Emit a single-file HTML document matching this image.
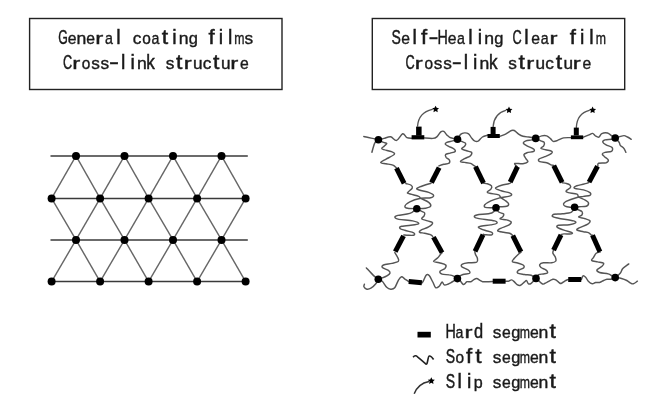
<!DOCTYPE html>
<html><head><meta charset="utf-8"><style>
html,body{margin:0;padding:0;background:#fff;width:660px;height:414px;overflow:hidden}
svg{display:block}
</style></head><body>
<svg width="660" height="414" viewBox="0 0 660 414">
<rect width="660" height="414" fill="#fff"/>
<rect x="29.6" y="18.5" width="252.4" height="71" fill="none" stroke="#222" stroke-width="1.4"/>
<rect x="372.3" y="18.5" width="252.4" height="71" fill="none" stroke="#222" stroke-width="1.4"/>
<g style="will-change:transform" font-family="Liberation Sans, sans-serif" font-size="19.6" fill="#1a1a1a" stroke="#1a1a1a" stroke-width="0.45"><text transform="translate(58.18,44.20) scale(0.628,1.0)">G</text>
<text transform="translate(67.77,44.20) scale(0.803,0.88)">e</text>
<text transform="translate(76.47,44.20) scale(0.899,0.88)">n</text>
<text transform="translate(86.37,44.20) scale(0.803,0.88)">e</text>
<text transform="translate(95.32,44.20) scale(1.224,0.88)">r</text>
<text transform="translate(105.03,44.20) scale(0.726,0.88)">a</text>
<text transform="translate(116.35,44.20) scale(1.000,1.0)">l</text>
<text transform="translate(132.81,44.20) scale(0.878,0.88)">c</text>
<text transform="translate(142.18,44.20) scale(0.787,0.88)">o</text>
<text transform="translate(151.53,44.20) scale(0.726,0.88)">a</text>
<text transform="translate(161.87,44.20) scale(1.177,1.0)">t</text>
<text transform="translate(172.15,44.20) scale(1.000,1.0)">i</text>
<text transform="translate(178.77,44.20) scale(0.899,0.88)">n</text>
<text transform="translate(188.64,44.20) scale(0.839,0.8)">g</text>
<text transform="translate(208.38,44.20) scale(1.134,1.0)">f</text>
<text transform="translate(218.65,44.20) scale(1.000,1.0)">i</text>
<text transform="translate(227.95,44.20) scale(1.000,1.0)">l</text>
<text transform="translate(234.34,44.20) scale(0.627,0.88)">m</text>
<text transform="translate(244.58,44.20) scale(0.878,0.88)">s</text>
<text transform="translate(62.92,68.50) scale(0.648,1.0)">C</text>
<text transform="translate(72.17,68.50) scale(1.224,0.88)">r</text>
<text transform="translate(81.83,68.50) scale(0.787,0.88)">o</text>
<text transform="translate(91.23,68.50) scale(0.878,0.88)">s</text>
<text transform="translate(100.53,68.50) scale(0.878,0.88)">s</text>
<text transform="translate(109.10,68.50) scale(1.531,1.0)">-</text>
<text transform="translate(121.10,68.50) scale(1.000,1.0)">l</text>
<text transform="translate(130.40,68.50) scale(1.000,1.0)">i</text>
<text transform="translate(137.02,68.50) scale(0.899,0.88)">n</text>
<text transform="translate(146.35,68.50) scale(0.878,1.0)">k</text>
<text transform="translate(165.63,68.50) scale(0.878,0.88)">s</text>
<text transform="translate(175.92,68.50) scale(1.177,1.0)">t</text>
<text transform="translate(183.77,68.50) scale(1.224,0.88)">r</text>
<text transform="translate(193.02,68.50) scale(0.878,0.88)">u</text>
<text transform="translate(202.66,68.50) scale(0.878,0.88)">c</text>
<text transform="translate(213.12,68.50) scale(1.177,1.0)">t</text>
<text transform="translate(220.92,68.50) scale(0.878,0.88)">u</text>
<text transform="translate(230.27,68.50) scale(1.224,0.88)">r</text>
<text transform="translate(239.92,68.50) scale(0.803,0.88)">e</text>
<text transform="translate(391.50,44.20) scale(0.716,1.0)">S</text>
<text transform="translate(401.17,44.20) scale(0.803,0.88)">e</text>
<text transform="translate(412.55,44.20) scale(1.000,1.0)">l</text>
<text transform="translate(420.88,44.20) scale(1.134,1.0)">f</text>
<text transform="translate(428.45,44.20) scale(1.531,1.0)">-</text>
<text transform="translate(437.56,44.20) scale(0.729,1.0)">H</text>
<text transform="translate(447.67,44.20) scale(0.803,0.88)">e</text>
<text transform="translate(457.03,44.20) scale(0.726,0.88)">a</text>
<text transform="translate(468.35,44.20) scale(1.000,1.0)">l</text>
<text transform="translate(477.65,44.20) scale(1.000,1.0)">i</text>
<text transform="translate(484.27,44.20) scale(0.899,0.88)">n</text>
<text transform="translate(494.14,44.20) scale(0.839,0.8)">g</text>
<text transform="translate(512.47,44.20) scale(0.648,1.0)">C</text>
<text transform="translate(524.15,44.20) scale(1.000,1.0)">l</text>
<text transform="translate(531.37,44.20) scale(0.803,0.88)">e</text>
<text transform="translate(540.73,44.20) scale(0.726,0.88)">a</text>
<text transform="translate(549.62,44.20) scale(1.224,0.88)">r</text>
<text transform="translate(569.68,44.20) scale(1.134,1.0)">f</text>
<text transform="translate(579.95,44.20) scale(1.000,1.0)">i</text>
<text transform="translate(589.25,44.20) scale(1.000,1.0)">l</text>
<text transform="translate(595.64,44.20) scale(0.627,0.88)">m</text>
<text transform="translate(405.52,68.50) scale(0.648,1.0)">C</text>
<text transform="translate(414.77,68.50) scale(1.224,0.88)">r</text>
<text transform="translate(424.43,68.50) scale(0.787,0.88)">o</text>
<text transform="translate(433.83,68.50) scale(0.878,0.88)">s</text>
<text transform="translate(443.13,68.50) scale(0.878,0.88)">s</text>
<text transform="translate(451.70,68.50) scale(1.531,1.0)">-</text>
<text transform="translate(463.70,68.50) scale(1.000,1.0)">l</text>
<text transform="translate(473.00,68.50) scale(1.000,1.0)">i</text>
<text transform="translate(479.62,68.50) scale(0.899,0.88)">n</text>
<text transform="translate(488.95,68.50) scale(0.878,1.0)">k</text>
<text transform="translate(508.23,68.50) scale(0.878,0.88)">s</text>
<text transform="translate(518.52,68.50) scale(1.177,1.0)">t</text>
<text transform="translate(526.37,68.50) scale(1.224,0.88)">r</text>
<text transform="translate(535.62,68.50) scale(0.878,0.88)">u</text>
<text transform="translate(545.26,68.50) scale(0.878,0.88)">c</text>
<text transform="translate(555.72,68.50) scale(1.177,1.0)">t</text>
<text transform="translate(563.52,68.50) scale(0.878,0.88)">u</text>
<text transform="translate(572.87,68.50) scale(1.224,0.88)">r</text>
<text transform="translate(582.52,68.50) scale(0.803,0.88)">e</text>
<text transform="translate(445.41,337.90) scale(0.729,1.0)">H</text>
<text transform="translate(455.58,337.90) scale(0.726,0.88)">a</text>
<text transform="translate(464.47,337.90) scale(1.224,0.88)">r</text>
<text transform="translate(474.09,337.90) scale(0.839,1.0)">d</text>
<text transform="translate(492.83,337.90) scale(0.878,0.88)">s</text>
<text transform="translate(502.02,337.90) scale(0.803,0.88)">e</text>
<text transform="translate(511.29,337.90) scale(0.839,0.8)">g</text>
<text transform="translate(519.79,337.90) scale(0.627,0.88)">m</text>
<text transform="translate(529.92,337.90) scale(0.803,0.88)">e</text>
<text transform="translate(538.62,337.90) scale(0.899,0.88)">n</text>
<text transform="translate(549.62,337.90) scale(1.177,1.0)">t</text>
<text transform="translate(445.85,362.90) scale(0.716,1.0)">S</text>
<text transform="translate(455.53,362.90) scale(0.787,0.88)">o</text>
<text transform="translate(465.93,362.90) scale(1.134,1.0)">f</text>
<text transform="translate(475.22,362.90) scale(1.177,1.0)">t</text>
<text transform="translate(492.83,362.90) scale(0.878,0.88)">s</text>
<text transform="translate(502.02,362.90) scale(0.803,0.88)">e</text>
<text transform="translate(511.29,362.90) scale(0.839,0.8)">g</text>
<text transform="translate(519.79,362.90) scale(0.627,0.88)">m</text>
<text transform="translate(529.92,362.90) scale(0.803,0.88)">e</text>
<text transform="translate(538.62,362.90) scale(0.899,0.88)">n</text>
<text transform="translate(549.62,362.90) scale(1.177,1.0)">t</text>
<text transform="translate(445.85,387.90) scale(0.716,1.0)">S</text>
<text transform="translate(457.60,387.90) scale(1.000,1.0)">l</text>
<text transform="translate(466.90,387.90) scale(1.000,1.0)">i</text>
<text transform="translate(473.78,387.90) scale(0.821,0.8)">p</text>
<text transform="translate(492.83,387.90) scale(0.878,0.88)">s</text>
<text transform="translate(502.02,387.90) scale(0.803,0.88)">e</text>
<text transform="translate(511.29,387.90) scale(0.839,0.8)">g</text>
<text transform="translate(519.79,387.90) scale(0.627,0.88)">m</text>
<text transform="translate(529.92,387.90) scale(0.803,0.88)">e</text>
<text transform="translate(538.62,387.90) scale(0.899,0.88)">n</text>
<text transform="translate(549.62,387.90) scale(1.177,1.0)">t</text></g>
<g stroke="#3a3a3a" stroke-width="1.5" fill="none"><line x1="50.5" y1="155.9" x2="247.8" y2="155.9"/>
<line x1="50.5" y1="239.9" x2="247.8" y2="239.9"/>
<line x1="51.6" y1="198.4" x2="245.6" y2="198.4"/>
<line x1="51.6" y1="281.6" x2="245.6" y2="281.6"/></g>
<g stroke="#666" stroke-width="1.4" fill="none"><line x1="76.0" y1="155.9" x2="51.6" y2="198.4"/>
<line x1="76.0" y1="155.9" x2="100.1" y2="198.4"/>
<line x1="124.5" y1="155.9" x2="100.1" y2="198.4"/>
<line x1="124.5" y1="155.9" x2="148.6" y2="198.4"/>
<line x1="173.0" y1="155.9" x2="148.6" y2="198.4"/>
<line x1="173.0" y1="155.9" x2="197.1" y2="198.4"/>
<line x1="221.5" y1="155.9" x2="197.1" y2="198.4"/>
<line x1="221.5" y1="155.9" x2="245.6" y2="198.4"/>
<line x1="76.0" y1="239.9" x2="51.6" y2="198.4"/>
<line x1="76.0" y1="239.9" x2="100.1" y2="198.4"/>
<line x1="124.5" y1="239.9" x2="100.1" y2="198.4"/>
<line x1="124.5" y1="239.9" x2="148.6" y2="198.4"/>
<line x1="173.0" y1="239.9" x2="148.6" y2="198.4"/>
<line x1="173.0" y1="239.9" x2="197.1" y2="198.4"/>
<line x1="221.5" y1="239.9" x2="197.1" y2="198.4"/>
<line x1="221.5" y1="239.9" x2="245.6" y2="198.4"/>
<line x1="76.0" y1="239.9" x2="51.6" y2="281.6"/>
<line x1="76.0" y1="239.9" x2="100.1" y2="281.6"/>
<line x1="124.5" y1="239.9" x2="100.1" y2="281.6"/>
<line x1="124.5" y1="239.9" x2="148.6" y2="281.6"/>
<line x1="173.0" y1="239.9" x2="148.6" y2="281.6"/>
<line x1="173.0" y1="239.9" x2="197.1" y2="281.6"/>
<line x1="221.5" y1="239.9" x2="197.1" y2="281.6"/>
<line x1="221.5" y1="239.9" x2="245.6" y2="281.6"/></g>
<g fill="#000"><circle cx="76.0" cy="155.9" r="4.0"/>
<circle cx="124.5" cy="155.9" r="4.0"/>
<circle cx="173.0" cy="155.9" r="4.0"/>
<circle cx="221.5" cy="155.9" r="4.0"/>
<circle cx="76.0" cy="239.9" r="4.0"/>
<circle cx="124.5" cy="239.9" r="4.0"/>
<circle cx="173.0" cy="239.9" r="4.0"/>
<circle cx="221.5" cy="239.9" r="4.0"/>
<circle cx="51.6" cy="198.4" r="4.0"/>
<circle cx="100.1" cy="198.4" r="4.0"/>
<circle cx="148.6" cy="198.4" r="4.0"/>
<circle cx="197.1" cy="198.4" r="4.0"/>
<circle cx="245.6" cy="198.4" r="4.0"/>
<circle cx="51.6" cy="281.6" r="4.0"/>
<circle cx="100.1" cy="281.6" r="4.0"/>
<circle cx="148.6" cy="281.6" r="4.0"/>
<circle cx="197.1" cy="281.6" r="4.0"/>
<circle cx="245.6" cy="281.6" r="4.0"/></g>
<rect x="417.5" y="331.8" width="13.3" height="5.7" fill="#000"/>
<path d="M413.1,357.3 C414.5,355.5 416,355.3 417.5,356.8 L426,364 C427.7,365.2 427.8,356.4 429.2,356 C430.7,355.7 432.3,357.5 433.6,359.5" fill="none" stroke="#222" stroke-width="1.6"/>
<path d="M414.2,393.8 Q418,383.5 429,381.4" fill="none" stroke="#333" stroke-width="1.5"/>
<g fill="#000"><polygon points="431.30,377.30 432.39,379.50 434.82,379.86 433.06,381.57 433.47,383.99 431.30,382.85 429.13,383.99 429.54,381.57 427.78,379.86 430.21,379.50"/></g>
<g fill="none" stroke="#555" stroke-width="1.45" stroke-linecap="round" stroke-linejoin="round">
<path d="M363.8,136.5 C366.2,137.1 376.0,139.2 378.4,139.8"/>
<path d="M378.4,139.8 C379.3,139.6 382.0,138.9 384.0,138.4 C386.0,137.9 388.5,136.5 390.6,136.8 C392.7,137.1 394.6,140.9 396.6,140.4 C398.6,139.9 401.0,134.3 402.7,133.8 C404.4,133.3 405.3,136.9 406.9,137.6 C408.4,138.3 411.1,138.1 412.0,138.2"/>
<path d="M424.0,137.9 C425.5,138.0 430.8,138.6 432.9,138.4 C435.0,138.2 435.5,138.0 436.8,136.9 C438.1,135.8 439.6,132.8 440.8,131.9 C442.0,131.0 442.8,130.9 443.8,131.4 C444.8,131.9 445.8,133.9 446.8,134.9 C447.8,135.9 448.6,136.8 449.7,137.4 C450.8,138.0 452.4,138.1 453.7,138.4 C455.0,138.7 456.9,139.2 457.5,139.3"/>
<path d="M457.5,139.3 C458.0,138.5 459.4,135.5 460.6,134.4 C461.8,133.3 463.3,133.0 464.6,132.9 C465.9,132.8 467.5,133.1 468.6,133.9 C469.8,134.7 470.5,136.7 471.5,137.9 C472.5,139.1 473.4,140.4 474.5,140.9 C475.6,141.4 476.7,141.8 478.0,141.2 C479.3,140.5 480.8,138.0 482.4,137.0 C484.0,136.0 486.6,135.5 487.5,135.2"/>
<path d="M499.8,136.3 C500.8,135.9 503.7,135.1 505.6,134.1 C507.5,133.1 509.9,131.1 511.4,130.5 C512.8,129.9 513.1,129.9 514.3,130.5 C515.5,131.1 517.1,133.1 518.6,134.1 C520.1,135.1 521.3,135.8 523.0,136.3 C524.7,136.8 527.1,136.8 528.8,137.0 C530.5,137.2 532.0,137.6 533.1,137.8 C534.2,138.0 535.3,138.3 535.7,138.4"/>
<path d="M535.7,138.4 C536.7,138.0 540.0,136.3 541.8,135.9 C543.6,135.5 545.2,135.4 546.7,135.9 C548.2,136.4 549.6,138.0 550.7,138.9 C551.8,139.8 552.1,141.2 553.2,141.4 C554.4,141.7 555.9,141.0 557.6,140.4 C559.3,139.8 561.4,138.4 563.6,137.9 C565.8,137.4 569.7,137.7 570.9,137.6"/>
<path d="M583.2,137.2 C584.2,136.8 587.4,135.5 589.0,134.9 C590.6,134.3 591.5,133.2 592.6,133.4 C593.7,133.6 594.5,135.4 595.5,136.0 C596.5,136.6 597.9,137.6 598.9,137.2 C599.9,136.8 600.4,134.3 601.8,133.6 C603.2,132.9 605.8,132.6 607.5,133.0 C609.2,133.4 610.6,135.1 611.9,135.9 C613.2,136.7 614.7,137.7 615.2,138.0"/>
<path d="M615.2,138.0 C615.9,137.8 617.6,137.3 619.1,136.9 C620.6,136.5 622.6,135.6 624.0,135.6 C625.4,135.6 626.3,136.4 627.5,137.0 C628.7,137.6 630.6,138.9 631.2,139.3"/>
<path d="M615.2,138.0 C615.9,138.7 618.2,141.0 619.1,142.2 C620.0,143.4 619.5,144.4 620.3,145.4 C621.1,146.4 622.9,147.0 623.8,148.2 C624.7,149.3 625.5,151.6 625.9,152.3"/>
<path d="M378.4,139.8 C377.9,140.2 376.0,141.3 375.3,142.2 C374.6,143.0 374.6,143.2 374.0,144.9 C373.4,146.6 372.2,151.1 371.9,152.3"/>
<path d="M378.4,139.8 C379.1,140.2 381.4,141.6 382.8,142.2 C384.2,142.8 386.6,142.8 386.8,143.5 C387.0,144.2 384.9,145.3 384.1,146.2 C383.3,147.1 380.9,148.1 382.1,149.0 C383.4,149.9 389.6,150.8 391.6,151.7 C393.6,152.6 395.2,153.2 394.3,154.4 C393.4,155.6 388.4,157.8 386.1,159.1 C383.8,160.4 380.7,161.7 380.7,162.5 C380.7,163.3 384.1,163.4 386.1,163.8 C388.1,164.2 391.2,164.5 392.9,165.2 C394.6,165.9 395.7,167.4 396.3,167.9"/>
<path d="M405.8,183.5 C406.6,183.8 409.7,184.3 410.8,185.0 C411.9,185.7 412.7,186.8 412.3,187.9 C411.9,189.1 409.0,191.0 408.3,191.9 C407.6,192.8 406.6,192.7 408.3,193.4 C410.0,194.2 416.6,195.6 418.7,196.4 C420.8,197.2 419.0,197.3 420.7,198.3 C422.4,199.3 427.0,201.0 428.7,202.3 C430.4,203.6 431.1,205.3 430.6,206.3 C430.1,207.3 428.0,207.8 425.7,208.2 C423.4,208.6 418.3,208.6 416.8,208.7"/>
<path d="M457.5,139.3 C456.7,139.6 454.5,140.4 452.7,140.9 C450.9,141.4 448.0,141.7 446.8,142.3 C445.6,142.9 445.0,143.6 445.3,144.3 C445.6,145.0 447.3,145.6 448.7,146.3 C450.1,147.1 452.6,147.9 453.7,148.8 C454.8,149.7 455.8,150.8 455.2,151.5 C454.6,152.2 451.8,152.6 450.2,153.1 C448.6,153.6 446.3,153.8 445.6,154.5 C444.9,155.2 445.5,156.3 446.1,157.3 C446.8,158.3 449.1,159.3 449.5,160.3 C449.9,161.3 449.8,162.7 448.8,163.3 C447.9,164.0 445.5,163.8 443.8,164.2 C442.1,164.6 439.7,165.6 438.9,165.9"/>
<path d="M431.0,183.2 C429.1,183.8 422.0,185.9 419.7,186.9 C417.4,187.9 415.8,188.5 417.3,189.4 C418.8,190.3 426.0,191.4 428.7,192.4 C431.4,193.4 433.3,194.5 433.6,195.4 C433.9,196.3 432.8,197.3 430.6,197.8 C428.5,198.3 424.2,197.6 420.7,198.3 C417.2,199.0 412.4,200.5 409.8,201.8 C407.2,203.1 405.2,205.2 404.9,206.3 C404.6,207.4 405.8,207.8 407.8,208.2 C409.8,208.6 415.3,208.6 416.8,208.7"/>
<path d="M416.8,208.7 C415.6,209.5 413.0,212.3 409.8,213.4 C406.6,214.5 400.4,214.7 397.9,215.4 C395.4,216.1 394.7,216.7 394.9,217.4 C395.1,218.1 395.9,218.8 398.9,219.4 C401.9,220.0 409.4,220.2 412.7,220.9 C416.0,221.6 418.4,222.7 418.7,223.3 C419.0,224.0 417.5,224.3 414.7,224.8 C411.9,225.3 404.3,225.7 401.8,226.3 C399.3,226.9 399.4,227.6 399.9,228.3 C400.4,229.0 402.5,229.6 404.8,230.3 C407.1,231.1 412.2,232.0 413.7,232.8 C415.2,233.6 414.8,234.8 413.7,235.2 C412.6,235.6 408.4,235.2 406.8,235.2 C405.2,235.2 404.3,235.0 403.8,235.0"/>
<path d="M416.8,208.7 C417.4,209.1 419.4,210.2 420.7,210.9 C422.0,211.6 424.0,212.1 424.6,212.9 C425.2,213.7 424.6,214.9 424.1,215.9 C423.6,216.9 421.1,218.1 421.7,218.9 C422.3,219.7 425.8,220.2 427.6,220.9 C429.4,221.6 432.4,221.8 432.6,222.8 C432.8,223.8 430.6,225.6 428.6,226.8 C426.6,228.1 422.2,229.4 420.7,230.3 C419.2,231.2 419.0,231.8 419.7,232.3 C420.4,232.8 422.8,232.8 424.6,233.2 C426.4,233.6 429.2,234.1 430.6,234.7 C432.0,235.2 432.4,236.2 432.7,236.5"/>
<path d="M394.8,252.5 C395.3,253.3 397.1,256.1 397.7,257.5 C398.3,258.9 399.4,260.2 398.4,261.2 C397.4,262.2 394.4,262.8 391.9,263.4 C389.4,264.0 385.1,264.3 383.5,265.0 C381.9,265.7 381.6,266.7 382.4,267.6 C383.2,268.5 387.1,269.4 388.4,270.3 C389.7,271.2 390.2,272.1 390.0,273.0 C389.8,273.9 388.7,274.7 387.3,275.6 C385.9,276.5 383.2,277.6 381.7,278.2 C380.2,278.8 378.9,279.1 378.3,279.3"/>
<path d="M442.1,252.8 C441.9,253.0 441.3,253.4 440.6,254.2 C439.9,255.0 439.0,256.6 437.8,257.8 C436.6,259.0 433.3,260.6 433.5,261.4 C433.7,262.2 437.2,262.2 439.2,262.8 C441.2,263.4 444.7,263.9 445.6,264.9 C446.6,265.8 445.8,267.4 444.9,268.5 C443.9,269.6 440.4,270.4 439.9,271.4 C439.4,272.3 440.6,273.6 442.1,274.2 C443.7,274.8 447.2,274.5 449.2,274.9 C451.2,275.2 452.8,275.7 454.2,276.3 C455.6,276.9 456.9,278.2 457.4,278.6"/>
<path d="M457.5,139.3 C458.2,139.7 460.2,140.7 461.6,141.4 C463.0,142.1 465.1,142.5 465.6,143.3 C466.1,144.1 465.3,145.4 464.6,146.3 C463.9,147.2 461.3,148.1 461.6,148.8 C461.9,149.6 465.0,150.2 466.6,150.8 C468.2,151.4 470.9,151.5 471.5,152.3 C472.1,153.1 471.6,154.6 470.5,155.7 C469.4,156.8 466.3,157.7 464.6,158.7 C462.9,159.7 460.4,160.9 460.4,161.5 C460.4,162.1 462.9,162.1 464.6,162.4 C466.3,162.7 469.1,162.9 470.6,163.4 C472.1,163.9 472.8,164.9 473.6,165.4 C474.4,165.9 475.1,166.2 475.4,166.4"/>
<path d="M483.8,183.3 C484.4,183.4 486.0,183.4 487.3,183.8 C488.6,184.2 490.9,184.9 491.5,185.8 C492.1,186.7 491.6,188.2 490.9,189.2 C490.2,190.2 487.5,191.3 487.3,192.0 C487.1,192.7 487.9,192.8 489.8,193.3 C491.7,193.8 496.9,194.2 498.7,194.9 C500.5,195.6 499.5,196.4 500.7,197.4 C501.9,198.4 504.4,199.8 505.7,200.9 C507.0,202.0 508.4,202.9 508.6,203.8 C508.8,204.7 508.2,205.8 506.7,206.3 C505.2,206.8 501.5,206.6 499.7,206.8 C497.9,207.1 496.6,207.6 496.0,207.8"/>
<path d="M535.7,138.4 C535.1,138.7 533.4,139.5 531.8,139.9 C530.2,140.3 527.3,140.3 525.9,140.9 C524.5,141.5 523.2,142.5 523.4,143.3 C523.6,144.1 525.2,144.9 526.9,145.8 C528.5,146.7 532.1,147.9 533.3,148.8 C534.4,149.7 534.9,150.6 533.8,151.3 C532.7,152.0 528.5,152.2 526.9,152.8 C525.2,153.4 524.1,153.7 523.9,154.7 C523.7,155.7 525.2,157.5 525.9,158.7 C526.6,159.9 528.4,160.9 527.9,161.7 C527.4,162.5 525.1,163.4 522.9,163.7 C520.7,164.0 515.7,163.0 514.8,163.5 C513.9,164.0 517.0,166.3 517.4,166.9"/>
<path d="M510.6,182.8 C510.3,183.0 510.1,183.4 508.6,183.8 C507.1,184.2 503.8,184.6 501.6,185.3 C499.4,186.0 495.6,187.3 495.5,188.2 C495.4,189.1 498.8,190.0 501.2,190.8 C503.6,191.6 507.9,192.2 509.6,192.9 C511.3,193.6 511.8,194.3 511.6,194.9 C511.4,195.5 510.6,195.9 508.6,196.4 C506.6,196.9 502.7,197.2 499.7,197.9 C496.7,198.7 493.3,199.8 490.8,200.9 C488.3,202.1 485.7,203.7 484.8,204.8 C483.9,205.9 484.1,206.8 485.3,207.3 C486.5,207.8 490.0,207.7 491.8,207.8 C493.6,207.9 495.3,207.8 496.0,207.8"/>
<path d="M496.0,207.8 C495.3,208.7 495.0,211.8 491.8,213.0 C488.6,214.2 479.8,214.3 476.9,215.0 C474.0,215.7 474.2,216.3 474.4,216.9 C474.6,217.5 474.5,217.7 477.9,218.4 C481.3,219.1 491.6,220.1 494.7,220.9 C497.8,221.7 497.3,222.7 496.7,223.4 C496.1,224.1 493.6,224.4 490.8,224.9 C488.0,225.4 481.9,225.9 479.9,226.4 C477.9,226.9 478.1,227.2 478.9,227.8 C479.7,228.5 482.6,229.6 484.8,230.3 C487.0,231.1 490.6,231.6 491.8,232.3 C493.0,233.1 492.8,234.4 491.8,234.8 C490.8,235.2 487.2,234.9 485.8,234.8 C484.4,234.7 483.7,234.4 483.3,234.3"/>
<path d="M496.0,207.8 C496.4,208.5 497.4,211.0 498.7,212.0 C500.0,213.0 503.0,213.2 503.7,214.0 C504.4,214.8 503.3,216.1 502.7,216.9 C502.1,217.7 499.5,218.4 500.2,218.9 C500.9,219.4 504.8,219.4 506.6,219.9 C508.4,220.4 510.7,221.1 511.1,221.9 C511.5,222.7 510.8,223.8 509.1,224.9 C507.4,226.0 502.6,227.3 500.7,228.3 C498.8,229.3 497.2,230.1 497.7,230.8 C498.2,231.5 501.7,231.9 503.7,232.3 C505.7,232.7 508.1,232.8 509.6,233.3 C511.1,233.8 512.1,235.0 512.6,235.3"/>
<path d="M474.8,251.7 C474.9,252.1 475.0,253.2 475.4,254.3 C475.8,255.4 477.2,257.0 477.4,258.3 C477.6,259.6 478.2,261.4 476.7,262.2 C475.2,262.9 470.7,262.5 468.3,262.8 C465.9,263.1 463.5,263.5 462.4,264.1 C461.3,264.8 460.7,265.7 461.7,266.7 C462.7,267.7 467.0,268.9 468.3,270.0 C469.6,271.1 470.5,272.4 469.6,273.2 C468.7,273.9 464.8,273.9 463.0,274.5 C461.2,275.1 460.0,275.8 459.1,276.5 C458.2,277.2 457.7,278.2 457.4,278.6"/>
<path d="M521.1,252.2 C520.6,252.5 519.5,253.2 518.4,254.2 C517.3,255.2 515.4,257.1 514.4,258.3 C513.4,259.5 511.7,260.8 512.3,261.6 C512.8,262.4 515.9,262.4 517.7,263.0 C519.5,263.6 522.1,264.2 523.1,265.0 C524.1,265.8 524.6,266.8 523.8,267.7 C523.0,268.6 519.4,269.5 518.4,270.4 C517.4,271.3 516.7,272.4 517.7,273.1 C518.7,273.8 522.2,274.1 524.5,274.5 C526.8,274.9 529.3,274.6 531.2,275.2 C533.1,275.8 535.2,277.9 536.0,278.4"/>
<path d="M535.7,138.4 C536.6,138.8 539.4,140.2 540.8,140.9 C542.2,141.6 543.7,141.5 544.2,142.3 C544.7,143.1 544.3,144.8 543.7,145.8 C543.1,146.8 540.5,147.6 540.8,148.3 C541.1,149.0 543.9,149.3 545.7,149.8 C547.5,150.3 550.8,150.7 551.7,151.3 C552.6,152.0 552.4,152.8 551.2,153.7 C550.0,154.6 546.8,155.8 544.7,156.7 C542.6,157.6 539.6,158.4 538.8,159.2 C538.0,160.0 538.5,161.1 539.8,161.7 C541.1,162.3 544.9,162.2 546.7,162.7 C548.6,163.2 549.8,164.4 550.9,164.9 C552.0,165.4 553.1,165.3 553.6,165.4"/>
<path d="M562.3,182.8 C562.9,182.9 564.8,183.0 566.1,183.4 C567.4,183.8 569.2,184.3 569.9,185.0 C570.6,185.7 571.0,186.7 570.4,187.7 C569.8,188.7 566.5,190.2 566.1,191.0 C565.8,191.8 566.5,192.1 568.3,192.6 C570.1,193.1 575.3,193.5 577.0,194.2 C578.7,194.9 577.3,196.0 578.7,197.0 C580.1,198.0 583.6,199.2 585.2,200.2 C586.8,201.2 588.3,201.9 588.5,202.9 C588.7,203.9 587.9,205.6 586.3,206.2 C584.7,206.8 580.7,206.5 578.7,206.7 C576.8,206.9 575.3,207.2 574.6,207.3"/>
<path d="M615.2,138.0 C614.6,138.2 613.2,139.0 611.5,139.3 C609.8,139.6 606.5,139.4 605.0,139.9 C603.5,140.4 602.6,141.3 602.8,142.1 C603.0,142.9 604.5,143.9 606.1,144.8 C607.7,145.7 611.2,146.4 612.1,147.5 C613.0,148.6 612.7,150.5 611.5,151.3 C610.3,152.1 606.5,152.0 605.0,152.4 C603.5,152.8 602.4,153.3 602.3,154.0 C602.2,154.7 603.5,155.7 604.5,156.7 C605.5,157.7 608.0,159.0 608.3,160.0 C608.6,161.0 607.7,162.1 606.1,162.7 C604.5,163.2 599.9,162.8 598.5,163.3 C597.1,163.9 598.0,165.6 597.9,166.0"/>
<path d="M588.9,182.3 C588.5,182.5 588.9,182.8 586.7,183.4 C584.5,184.0 577.9,185.3 575.9,186.1 C573.9,186.9 573.5,187.7 574.8,188.3 C576.1,188.9 581.0,189.2 583.5,189.9 C586.0,190.6 588.9,191.7 590.0,192.6 C591.1,193.5 591.1,194.7 590.0,195.3 C588.9,195.9 585.7,196.0 583.5,196.4 C581.3,196.8 579.9,196.7 577.0,197.5 C574.1,198.3 568.4,200.2 566.1,201.3 C563.9,202.4 563.7,203.2 563.5,204.0 C563.3,204.8 564.0,205.6 565.1,206.2 C566.2,206.8 568.4,207.1 570.0,207.3 C571.6,207.5 573.8,207.3 574.6,207.3"/>
<path d="M574.6,207.3 C574.1,208.1 573.5,211.1 571.5,212.2 C569.5,213.3 565.3,213.5 562.4,213.8 C559.5,214.2 555.8,213.9 554.1,214.3 C552.5,214.8 551.8,215.8 552.5,216.5 C553.2,217.2 555.0,217.5 558.5,218.2 C562.0,218.9 570.9,220.1 573.7,220.9 C576.5,221.7 576.0,222.4 575.3,223.0 C574.6,223.6 572.1,224.3 569.3,224.7 C566.5,225.1 560.5,224.8 558.5,225.2 C556.5,225.6 556.5,226.6 557.4,227.4 C558.3,228.2 561.5,229.3 563.9,230.1 C566.2,230.9 570.2,231.7 571.5,232.3 C572.8,232.9 572.8,233.6 571.5,233.9 C570.2,234.2 565.6,233.8 563.9,233.9 C562.2,234.0 561.7,234.4 561.2,234.5"/>
<path d="M574.6,207.3 C575.1,207.7 576.4,208.8 577.6,209.5 C578.8,210.2 581.3,210.7 582.0,211.6 C582.7,212.5 582.5,214.0 582.0,214.9 C581.5,215.8 578.2,216.5 578.7,217.1 C579.2,217.7 583.3,218.1 585.2,218.7 C587.1,219.3 589.6,220.0 590.0,220.9 C590.4,221.8 589.6,222.9 587.8,224.1 C586.0,225.3 580.9,226.9 579.1,227.9 C577.3,228.9 576.3,229.5 577.0,230.1 C577.7,230.7 581.5,231.2 583.5,231.7 C585.5,232.1 587.6,232.2 588.9,232.8 C590.2,233.4 590.5,234.6 591.1,235.0 C591.7,235.4 592.0,235.0 592.2,235.0"/>
<path d="M553.4,250.3 C553.3,250.8 552.6,252.2 552.9,253.3 C553.2,254.4 554.7,255.5 555.2,256.8 C555.7,258.1 556.4,260.0 555.8,261.0 C555.2,262.0 553.8,262.5 551.7,262.8 C549.6,263.1 545.4,262.5 543.4,262.8 C541.4,263.1 540.2,263.7 539.8,264.5 C539.4,265.3 540.0,266.6 541.0,267.5 C542.0,268.4 544.7,269.0 545.8,269.9 C546.9,270.8 547.9,272.1 547.5,272.8 C547.1,273.5 544.9,273.7 543.4,274.0 C541.9,274.3 539.9,273.9 538.7,274.6 C537.5,275.3 536.5,277.8 536.0,278.4"/>
<path d="M600.2,252.0 C599.5,252.2 597.3,252.4 596.2,253.3 C595.1,254.2 594.4,256.1 593.6,257.3 C592.8,258.5 590.9,259.8 591.6,260.6 C592.3,261.4 595.6,261.5 597.6,261.9 C599.6,262.3 602.9,262.4 603.6,263.2 C604.3,264.0 602.7,265.5 601.6,266.6 C600.5,267.7 597.2,268.9 596.9,269.9 C596.6,270.9 597.7,271.8 599.6,272.5 C601.5,273.2 606.1,273.3 608.2,273.9 C610.3,274.5 611.0,275.3 612.2,275.9 C613.4,276.5 614.7,277.3 615.2,277.6"/>
<path d="M366.4,267.9 C367.6,269.2 371.9,274.0 373.9,275.9 C375.9,277.8 377.6,278.7 378.3,279.3"/>
<path d="M378.3,279.3 C377.9,280.1 377.0,282.3 375.8,283.8 C374.6,285.3 372.4,287.3 370.9,288.2 C369.4,289.1 368.1,289.4 366.9,289.2 C365.7,289.0 364.3,287.6 363.9,286.8 C363.5,286.0 364.3,284.7 364.4,284.3"/>
<path d="M378.3,279.3 C379.0,279.6 380.9,280.0 382.3,281.3 C383.7,282.6 385.3,286.0 386.7,287.3 C388.1,288.6 389.4,289.1 390.7,289.2 C392.0,289.3 393.4,289.4 394.7,287.8 C396.0,286.2 397.5,281.6 398.6,279.8 C399.8,278.0 400.6,277.0 401.6,276.8 C402.6,276.6 403.4,278.0 404.6,278.8 C405.8,279.6 407.9,281.1 408.6,281.5"/>
<path d="M422.0,283.0 C422.2,282.6 422.8,282.0 423.5,280.6 C424.2,279.2 425.4,275.7 426.4,274.9 C427.3,274.1 428.1,274.4 429.2,275.6 C430.3,276.8 431.7,280.0 432.8,282.0 C433.9,284.0 434.5,287.0 435.6,287.7 C436.7,288.4 438.1,287.2 439.2,286.3 C440.3,285.4 441.3,282.2 442.1,282.0 C442.9,281.8 443.2,284.5 444.2,284.9 C445.1,285.3 446.5,284.7 447.8,284.2 C449.1,283.7 450.4,282.9 452.0,282.0 C453.6,281.1 456.5,279.2 457.4,278.6"/>
<path d="M457.4,278.6 C457.9,279.0 459.5,280.2 460.4,281.1 C461.3,282.1 462.2,283.9 463.0,284.3 C463.8,284.7 464.4,284.1 465.0,283.7 C465.6,283.3 465.9,282.0 466.9,281.7 C467.9,281.4 469.8,282.0 470.9,281.7 C472.0,281.4 472.5,280.3 473.5,279.8 C474.5,279.3 475.6,278.4 476.7,278.5 C477.8,278.6 479.0,279.9 480.0,280.4 C481.0,280.9 481.5,281.5 482.6,281.7 C483.7,281.9 484.8,281.8 486.5,281.7 C488.2,281.6 491.7,281.4 492.7,281.4"/>
<path d="M505.6,281.2 C506.1,281.2 507.3,281.4 508.3,281.2 C509.3,281.0 510.6,279.8 511.6,279.9 C512.6,280.0 513.5,281.1 514.4,281.9 C515.3,282.7 516.1,284.0 517.1,284.6 C518.1,285.2 519.2,285.8 520.4,285.3 C521.6,284.9 523.5,282.7 524.5,281.9 C525.5,281.1 525.8,280.3 526.5,280.6 C527.2,280.9 527.7,283.4 528.5,283.9 C529.3,284.3 530.0,284.2 531.2,283.3 C532.5,282.4 535.2,279.2 536.0,278.4"/>
<path d="M536.0,278.4 C536.8,279.1 539.8,281.9 541.0,282.9 C542.2,283.8 542.4,284.2 543.4,284.1 C544.4,284.0 545.3,283.1 546.9,282.3 C548.5,281.5 551.4,279.7 552.9,279.3 C554.4,278.9 554.8,279.4 555.8,279.9 C556.8,280.4 557.9,281.7 558.8,282.3 C559.7,282.9 560.1,283.7 561.1,283.5 C562.1,283.3 563.5,281.8 564.7,281.1 C565.9,280.4 567.6,279.7 568.2,279.4"/>
<path d="M581.3,279.6 C581.6,279.0 582.3,276.3 583.0,275.9 C583.7,275.5 584.7,276.3 585.6,277.2 C586.5,278.1 587.2,280.1 588.3,281.2 C589.4,282.3 591.1,283.6 592.3,283.8 C593.5,284.0 594.4,282.7 595.6,282.5 C596.8,282.3 598.3,282.8 599.6,282.5 C600.9,282.2 602.4,281.1 603.6,280.5 C604.8,279.9 605.7,279.4 606.9,279.2 C608.1,279.0 609.5,279.5 610.9,279.2 C612.3,278.9 614.5,277.9 615.2,277.6"/>
<path d="M615.2,277.6 C616.0,276.9 618.9,274.7 620.2,273.2 C621.5,271.7 621.4,270.2 622.8,268.6 C624.2,267.1 627.8,264.7 628.8,263.9"/>
<path d="M615.2,277.6 C616.2,277.8 619.6,278.0 621.5,278.5 C623.4,279.0 625.2,279.7 626.8,280.5 C628.3,281.3 629.7,282.6 630.8,283.2 C631.9,283.8 632.3,284.1 633.4,283.8 C634.5,283.5 636.7,281.6 637.4,281.2"/>
<path d="M417.6,126 Q418.5,112.5 432.3,109.3" stroke-width="1.3"/>
<path d="M493.1,127 Q494,113.5 505.8,110.4" stroke-width="1.3"/>
<path d="M576.3,127.6 Q577,113.5 589.3,110.4" stroke-width="1.3"/>
</g>
<g stroke="#000" stroke-width="5.0" stroke-linecap="butt">
<line x1="396.47" y1="168.03" x2="404.13" y2="183.47"/>
<line x1="439.14" y1="167.53" x2="431.46" y2="182.67"/>
<line x1="475.47" y1="166.73" x2="483.53" y2="183.07"/>
<line x1="517.53" y1="166.63" x2="510.17" y2="182.17"/>
<line x1="553.77" y1="165.73" x2="562.13" y2="182.47"/>
<line x1="597.54" y1="166.24" x2="589.06" y2="182.06"/>
<line x1="403.54" y1="235.93" x2="395.26" y2="251.67"/>
<line x1="433.45" y1="237.14" x2="442.05" y2="252.66"/>
<line x1="483.03" y1="234.63" x2="475.07" y2="251.37"/>
<line x1="512.77" y1="235.63" x2="520.93" y2="251.87"/>
<line x1="561.03" y1="234.83" x2="553.57" y2="250.07"/>
<line x1="592.48" y1="235.33" x2="599.92" y2="251.67"/>
<line x1="408.7" y1="281.57" x2="421.9" y2="282.83"/>
<line x1="492.7" y1="281.2" x2="505.6" y2="281.2"/>
<line x1="568.2" y1="279.4" x2="581.3" y2="279.6"/>
</g>
<g fill="#000">
<rect x="416.1" y="126.6" width="5.5" height="9.0"/>
<rect x="411.6" y="135.2" width="12.7" height="4.2"/>
<rect x="490.6" y="126.9" width="5.0" height="7.7"/>
<rect x="487.5" y="134.0" width="12.3" height="4.0"/>
<rect x="573.8" y="127.6" width="5.0" height="7.8"/>
<rect x="570.9" y="135.4" width="12.3" height="3.8"/>
<polygon points="435.60,105.70 436.66,107.84 439.02,108.19 437.31,109.86 437.72,112.21 435.60,111.10 433.48,112.21 433.89,109.86 432.18,108.19 434.54,107.84"/>
<polygon points="509.00,106.60 510.06,108.74 512.42,109.09 510.71,110.76 511.12,113.11 509.00,112.00 506.88,113.11 507.29,110.76 505.58,109.09 507.94,108.74"/>
<polygon points="592.60,106.60 593.66,108.74 596.02,109.09 594.31,110.76 594.72,113.11 592.60,112.00 590.48,113.11 590.89,110.76 589.18,109.09 591.54,108.74"/>
<circle cx="378.4" cy="139.8" r="3.8"/>
<circle cx="457.5" cy="139.3" r="3.8"/>
<circle cx="535.7" cy="138.4" r="3.8"/>
<circle cx="615.2" cy="138.0" r="3.8"/>
<circle cx="416.8" cy="208.7" r="3.8"/>
<circle cx="496.0" cy="207.8" r="3.8"/>
<circle cx="574.6" cy="207.3" r="3.8"/>
<circle cx="378.3" cy="279.3" r="3.8"/>
<circle cx="457.4" cy="278.6" r="3.8"/>
<circle cx="536.0" cy="278.4" r="3.8"/>
<circle cx="615.2" cy="277.6" r="3.8"/>
</g>
</svg>
</body></html>
